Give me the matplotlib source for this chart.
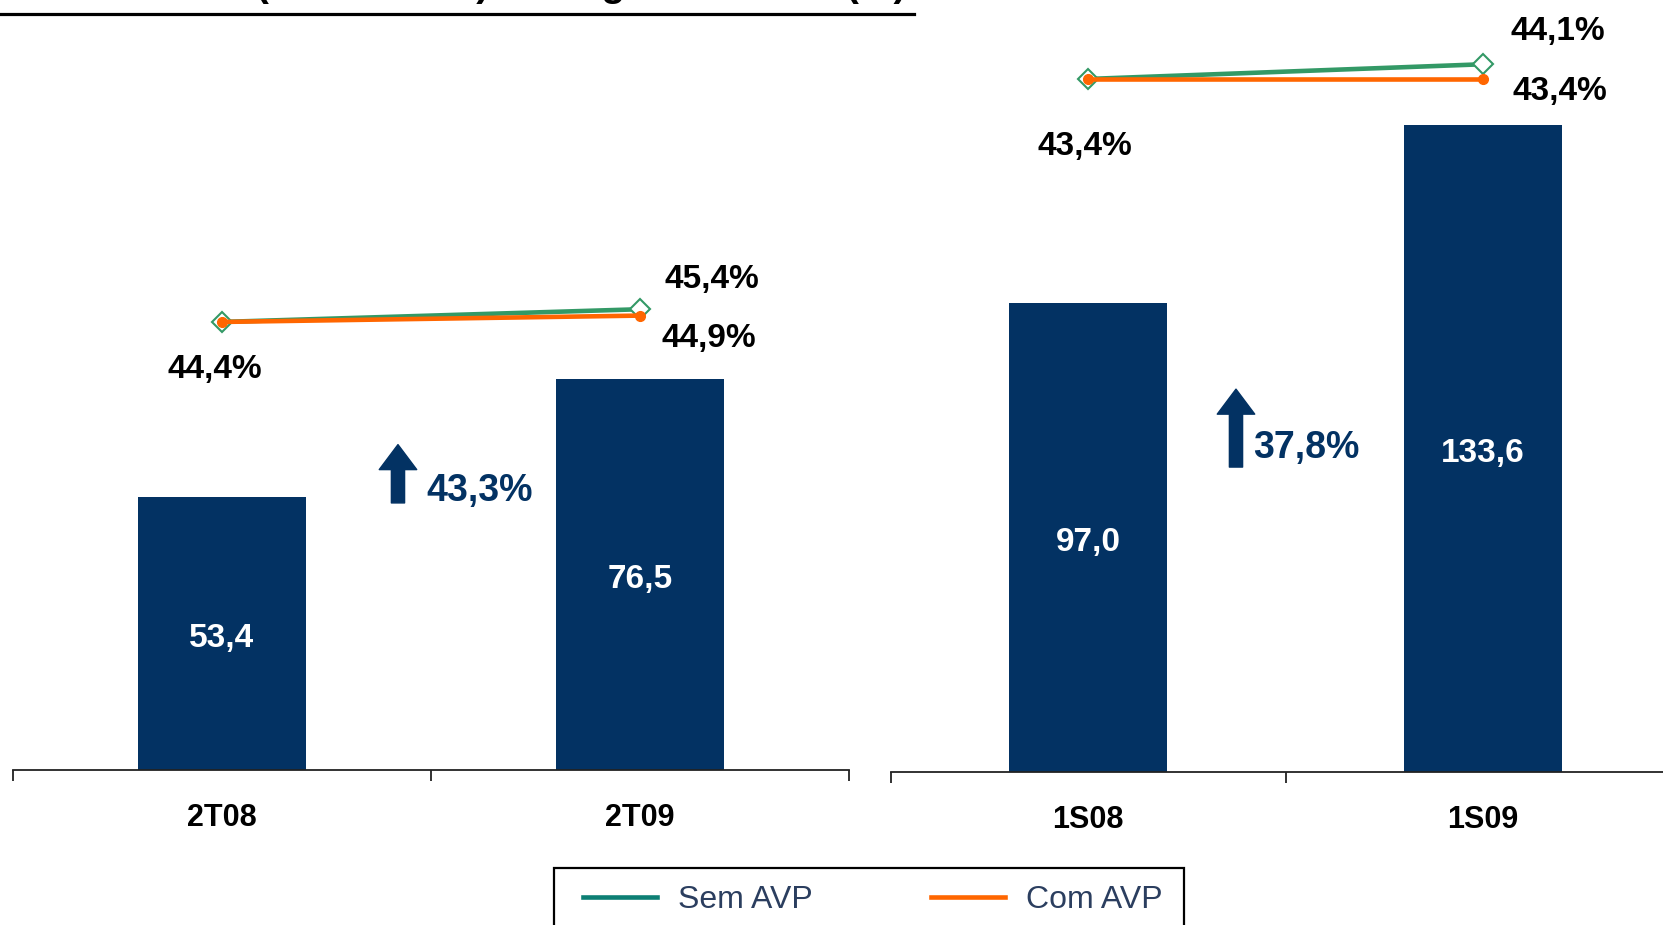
import matplotlib
matplotlib.use("Agg")
import matplotlib.pyplot as plt
from matplotlib.lines import Line2D
from matplotlib.patches import Rectangle

plt.rcParams['font.family'] = ['Liberation Sans', 'DejaVu Sans']

# data
cats_q = ['2T08', '2T09']
ebitda_q = [53.4, 76.5]
sem_avp_q = [44.4, 45.4]
com_avp_q = [44.4, 44.9]
growth_q = '43,3%'

cats_s = ['1S08', '1S09']
ebitda_s = [97.0, 133.6]
sem_avp_s = [43.4, 44.1]
com_avp_s = [43.4, 43.4]
growth_s = '37,8%'

title = 'EBITDA (R$ milhões) e Margem EBITDA (%)'
legend_labels = ['Sem AVP', 'Com AVP']

navy = '#033263'
green = '#339966'
orange = '#ff6600'
teal = '#0d7f74'

W, H = 1663, 925
fig = plt.figure(figsize=(W / 100, H / 100), dpi=100)


def fmt(v, pct=False):
    s = f'{v:.1f}'.replace('.', ',')
    return s + '%' if pct else s


def panel(rect, cats, vals, ymax, m_lim, sem, com, lab_off, growth, arr, gtxt):
    ax = fig.add_axes([rect[0] / W, 1 - rect[3] / H, rect[2] / W, rect[3] / H])
    x = range(len(cats))
    ax.bar(x, vals, width=0.4, color=navy, zorder=2)
    for xi, v in zip(x, vals):
        ax.annotate(fmt(v), (xi, v / 2), xytext=(0, -5), textcoords='offset pixels',
                    color='white', fontsize=24, fontweight='bold',
                    ha='center', va='center')
    ax.set_xlim(-0.5, 1.5)
    ax.set_ylim(0, ymax)
    for s in ['top', 'right', 'left']:
        ax.spines[s].set_visible(False)
    ax.spines['bottom'].set_linewidth(1.3)
    ax.spines['bottom'].set_color('#222222')
    ax.set_yticks([])
    ax.set_xticks([-0.5, 0.5, 1.5])
    ax.set_xticklabels([])
    ax.tick_params(axis='x', which='major', length=8, width=1.3, color='#222222')
    ax.set_xticks([0, 1], minor=True)
    ax.set_xticklabels(cats, minor=True, fontsize=22, fontweight='bold')
    ax.tick_params(axis='x', which='minor', length=0, pad=24)

    # growth arrow and text
    ax.annotate('', xy=(arr[0], arr[2]), xytext=(arr[0], arr[1]),
                arrowprops=dict(arrowstyle='simple,head_length=1.8,head_width=2.7,tail_width=0.95',
                                color=navy, shrinkA=0, shrinkB=0, mutation_scale=10))
    ax.annotate(growth, (gtxt[0], gtxt[1]), xytext=(0, -4), textcoords='offset pixels',
                color=navy, fontsize=27, fontweight='bold', ha='left', va='center')

    ax2 = ax.twinx()
    ax2.set_ylim(*m_lim)
    ax2.axis('off')
    ax2.plot(x, sem, color=green, lw=3.3, marker='D', ms=10, mfc='white',
             mec=green, mew=1.5, zorder=3)
    ax2.plot(x, com, color=orange, lw=3.3, marker='o', ms=7, zorder=4)
    pts = [(0, sem[0]), (1, sem[1]), (1, com[1])]
    for (xi, v), off in zip(pts, lab_off):
        ax2.annotate(fmt(v, True), (xi, v), xytext=off, textcoords='offset pixels',
                     fontsize=24, fontweight='bold', ha='center', va='center')
    return ax


panel((13, 0, 836, 770), cats_q, ebitda_q, 150.5, (9.12, 69.75),
      sem_avp_q, com_avp_q, [(-7, -48), (72, 30), (69, -23)],
      growth_q, (0.421, 52.2, 63.6), (0.488, 55.3))
panel((891, 0, 789, 772), cats_s, ebitda_s, 159.5, (10.4, 47.16),
      sem_avp_s, com_avp_s, [(-3, -68), (75, 33), (77, -13)],
      growth_s, (0.3745, 63.0, 79.1), (0.4176, 67.8))

# title (clipped at top) and its rule
fig.text(906 / W, 1 + 4 / H, title, fontsize=28, fontweight='bold',
         ha='right', va='baseline')
fig.add_artist(Line2D([0, 914 / W], [1 - 14 / H, 1 - 14 / H], color='black', lw=2.3))

# legend
fig.add_artist(Rectangle((554 / W, 1 - 960 / H), 630 / W, 92 / H, fill=False,
                         edgecolor='black', lw=1.6, transform=fig.transFigure))
handles = [Line2D([], [], color=teal, lw=3.3), Line2D([], [], color=orange, lw=3.3)]
fig.legend(handles, legend_labels, loc='center left', ncol=2, frameon=False,
           bbox_to_anchor=(583 / W, 1 - 900 / H), fontsize=23, labelcolor='#2b3e5f',
           handlelength=2.32, handletextpad=0.66, columnspacing=3.7, borderpad=0,
           borderaxespad=0)

fig.savefig('out.png', dpi=100)
